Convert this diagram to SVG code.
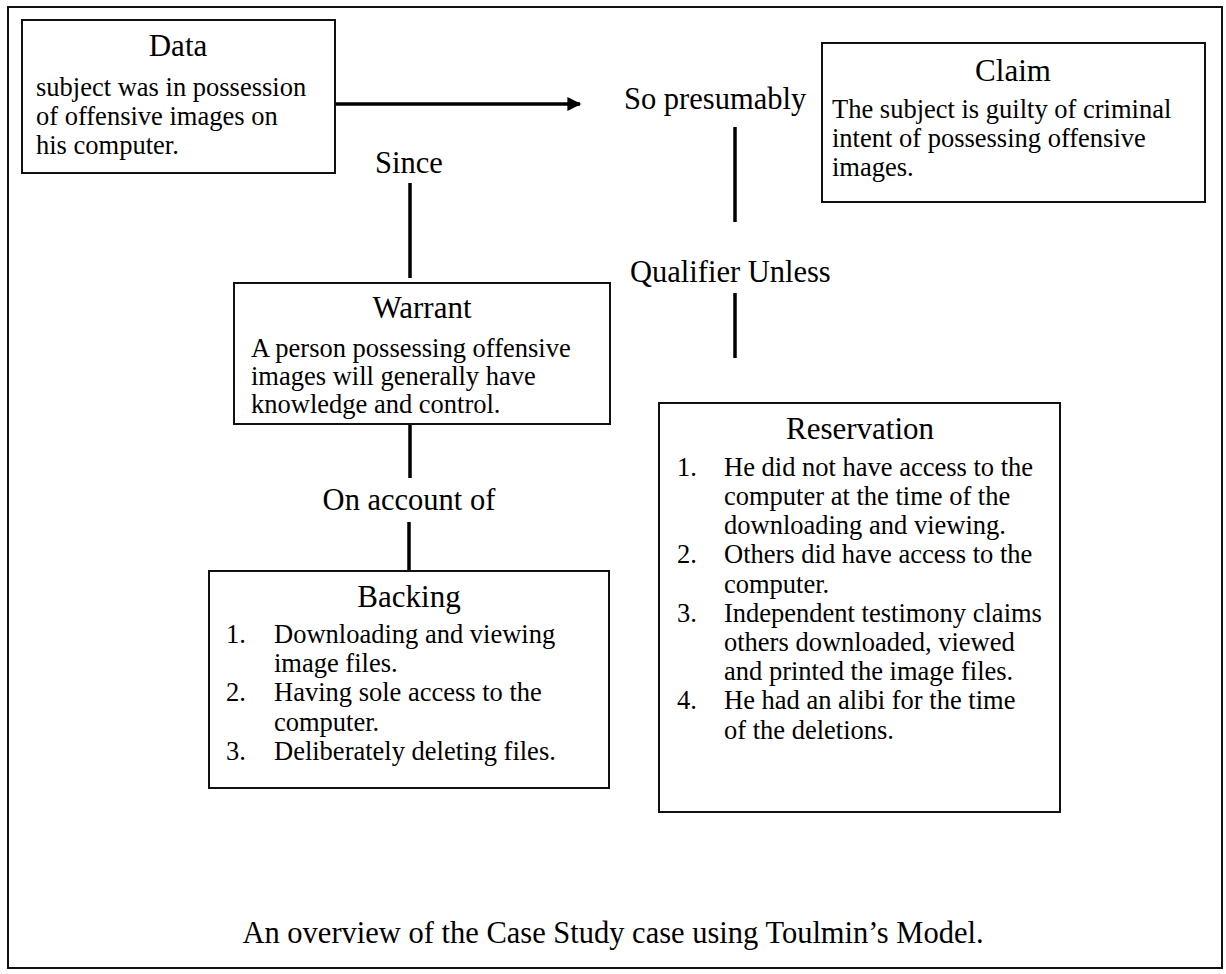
<svg xmlns="http://www.w3.org/2000/svg" width="1226" height="974" viewBox="0 0 1226 974">
<defs>
<style>
text { font-family: "Liberation Serif", "Times New Roman", serif; fill: #000; }
.title { font-size: 31px; text-anchor: middle; }
.body { font-size: 26.5px; }
.label { font-size: 30.5px; }
.box { fill: #fff; stroke: #111; stroke-width: 2; }
.conn { stroke: #000; stroke-width: 3.5; fill: none; }
</style>
<marker id="arrow" viewBox="0 0 10 10" refX="9" refY="5" markerWidth="4.5" markerHeight="4" orient="auto" markerUnits="strokeWidth">
<path d="M0,0 L10,5 L0,10 z" fill="#000"/>
</marker>
</defs>
<rect x="0" y="0" width="1226" height="974" fill="#fff"/>
<rect x="8" y="7" width="1214" height="961" fill="none" stroke="#111" stroke-width="2"/>

<g id="connectors">
<line class="conn" x1="336" y1="104" x2="580" y2="104" marker-end="url(#arrow)"/>
<line class="conn" x1="410" y1="183" x2="410" y2="278"/>
<line class="conn" x1="735" y1="127" x2="735" y2="222"/>
<line class="conn" x1="735" y1="293" x2="735" y2="358"/>
<line class="conn" x1="410" y1="424" x2="410" y2="478"/>
<line class="conn" x1="409" y1="522" x2="409" y2="571"/>
</g>

<g id="labels">
<text class="label" x="624" y="109">So presumably</text>
<text class="label" x="409" y="173" text-anchor="middle">Since</text>
<text class="label" x="630" y="282">Qualifier Unless</text>
<text class="label" x="409" y="510" text-anchor="middle">On account of</text>
</g>

<g id="data">
<rect class="box" x="22" y="20" width="313" height="153"/>
<text class="title" x="178" y="56">Data</text>
<text class="body" x="36" y="96">subject was in possession</text>
<text class="body" x="36" y="125">of offensive images on</text>
<text class="body" x="36" y="154">his computer.</text>
</g>

<g id="claim">
<rect class="box" x="822" y="43" width="383" height="159"/>
<text class="title" x="1013" y="81">Claim</text>
<text class="body" x="832" y="118">The subject is guilty of criminal</text>
<text class="body" x="832" y="147">intent of possessing offensive</text>
<text class="body" x="832" y="176">images.</text>
</g>

<g id="warrant">
<rect class="box" x="234" y="283" width="376" height="141"/>
<text class="title" x="422" y="318">Warrant</text>
<text class="body" x="251" y="357">A person possessing offensive</text>
<text class="body" x="251" y="385">images will generally have</text>
<text class="body" x="251" y="413">knowledge and control.</text>
</g>

<g id="backing">
<rect class="box" x="209" y="571" width="400" height="217"/>
<text class="title" x="409" y="607">Backing</text>
<text class="body" x="226" y="643">1.</text>
<text class="body" x="274" y="643">Downloading and viewing</text>
<text class="body" x="274" y="672">image files.</text>
<text class="body" x="226" y="701">2.</text>
<text class="body" x="274" y="701">Having sole access to the</text>
<text class="body" x="274" y="731">computer.</text>
<text class="body" x="226" y="760">3.</text>
<text class="body" x="274" y="760">Deliberately deleting files.</text>
</g>

<g id="reservation">
<rect class="box" x="659" y="403" width="401" height="409"/>
<text class="title" x="860" y="439">Reservation</text>
<text class="body" x="677" y="476">1.</text>
<text class="body" x="724" y="476">He did not have access to the</text>
<text class="body" x="724" y="505">computer at the time of the</text>
<text class="body" x="724" y="534">downloading and viewing.</text>
<text class="body" x="677" y="563">2.</text>
<text class="body" x="724" y="563">Others did have access to the</text>
<text class="body" x="724" y="593">computer.</text>
<text class="body" x="677" y="622">3.</text>
<text class="body" x="724" y="622">Independent testimony claims</text>
<text class="body" x="724" y="651">others downloaded, viewed</text>
<text class="body" x="724" y="680">and printed the image files.</text>
<text class="body" x="677" y="709">4.</text>
<text class="body" x="724" y="709">He had an alibi for the time</text>
<text class="body" x="724" y="739">of the deletions.</text>
</g>

<g id="caption">
<text x="613" y="943" font-size="30.5" text-anchor="middle">An overview of the Case Study case using Toulmin’s Model.</text>
</g>
</svg>
